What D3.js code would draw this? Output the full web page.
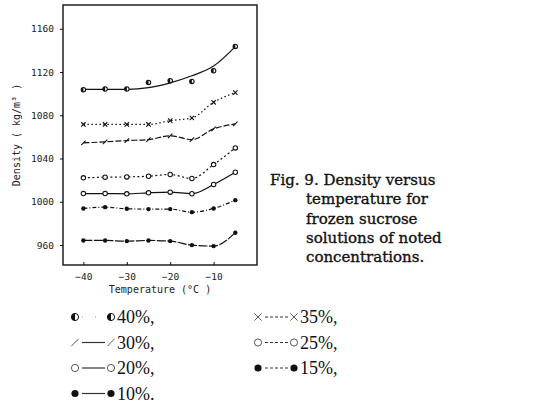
<!DOCTYPE html>
<html>
<head>
<meta charset="utf-8">
<script src="https://cdn.jsdelivr.net/npm/d3@7"></script>
<style>
  body { margin: 0; background: #fff; }
  svg { display: block; }
</style>
</head>
<body>
<script>
// temperatures (°C) and densities (kg/m3)
const temps = [-40, -35, -30, -25, -20, -15, -10, -5];
const conc40 = [1103.7, 1104.3, 1104.3, 1110.4, 1112, 1111.3, 1121.2, 1143.7];
const fit40 = [1104, 1104, 1104, 1105.5, 1110, 1116.5, 1125.5, 1143.5];
const conc35 = [1071.5, 1071.5, 1071.5, 1071.5, 1075, 1077.5, 1092, 1101];
const conc30 = [1054.5, 1055.4, 1056.6, 1057.5, 1061, 1057.5, 1067.4, 1072];
const conc25 = [1022.1, 1022.7, 1023, 1023.6, 1025.2, 1021.5, 1034.4, 1049.8];
const conc20 = [1007.6, 1007.6, 1007.3, 1008.3, 1008.9, 1007.4, 1016, 1027.3];
const conc15 = [993.8, 995, 993.5, 993.2, 993.2, 990.4, 993.8, 1001.5];
const conc10 = [964.2, 964.2, 963.6, 964.2, 963.6, 959.9, 959, 971.4];

const yTicks = [960, 1000, 1040, 1080, 1120, 1160];
const xTicks = [-40, -30, -20, -10];
const captionLines = ['Fig. 9. Density versus', 'temperature for', 'frozen sucrose',
  'solutions of noted', 'concentrations.'];

const width = 538, height = 420;
const pLeft = 63, pRight = 257, pTop = 5, pBottom = 265;

const series = [
  {label: '40%,', values: conc40, line: fit40, mark: 'half', dash: null, legDash: '1,12'},
  {label: '35%,', values: conc35, mark: 'cross', dash: '1.5,2.5', legDash: '3,2'},
  {label: '30%,', values: conc30, mark: 'slash', dash: '6,2', legDash: null},
  {label: '25%,', values: conc25, mark: 'open', dash: '2,2.5', legDash: '3,2'},
  {label: '20%,', values: conc20, mark: 'open', dash: null, legDash: null},
  {label: '15%,', values: conc15, mark: 'dot', dash: '4,2,1,2', legDash: '3,2'},
  {label: '10%.', values: conc10, mark: 'dot', dash: '9,1.5', legDash: null}
];

const svg = d3.select('body')
  .append('svg')
  .attr('width', width)
  .attr('height', height)

const x = d3.scaleLinear()
  .domain([-44.7, 0])
  .range([pLeft, pRight])
const y = d3.scaleLinear()
  .domain([941.5, 1182])
  .range([pBottom, pTop])

const ink = '#111';

// frame
svg.append('rect')
  .attr('x', pLeft)
  .attr('y', pTop)
  .attr('width', pRight - pLeft)
  .attr('height', pBottom - pTop)
  .attr('fill', 'none')
  .attr('stroke', ink)
  .attr('stroke-width', 1.4)

const yAxis = d3.axisLeft(y).tickValues(yTicks).tickSize(3).tickPadding(6)
  .tickFormat(d3.format('d'));
svg.append('g')
  .attr('transform', 'translate(' + pLeft + ',0)')
  .call(yAxis)
  .call(g => g.select('.domain').remove())
  .selectAll('text')
  .attr('font-family', 'DejaVu Sans Mono')
  .attr('font-size', 9.5)
  .attr('fill', '#222')

const xAxis = d3.axisBottom(x).tickValues(xTicks).tickSize(-3).tickPadding(8)
  .tickFormat(d3.format('d'));
svg.append('g')
  .attr('transform', 'translate(0,' + pBottom + ')')
  .call(xAxis)
  .call(g => g.select('.domain').remove())
  .selectAll('text')
  .attr('font-family', 'DejaVu Sans Mono')
  .attr('font-size', 9.5)
  .attr('fill', '#222')
svg.selectAll('.tick line').attr('stroke', ink)

svg.append('text')
  .attr('x', 160)
  .attr('y', 293)
  .attr('text-anchor', 'middle')
  .attr('font-family', 'DejaVu Sans Mono')
  .attr('font-size', 10)
  .attr('fill', '#222')
  .text('Temperature (°C )')

svg.append('text')
  .attr('transform', 'translate(20,135) rotate(-90)')
  .attr('text-anchor', 'middle')
  .attr('font-family', 'DejaVu Sans Mono')
  .attr('font-size', 10)
  .attr('fill', '#222')
  .text('Density ( kg/m³ )')

function drawMark(g, type, r, w) {
  if (type === 'dot') {
    g.append('circle').attr('r', r).attr('fill', ink)
  } else if (type === 'open') {
    g.append('circle').attr('r', r).attr('fill', '#fff').attr('stroke', ink).attr('stroke-width', w)
  } else if (type === 'half') {
    g.append('circle').attr('r', r).attr('fill', '#fff').attr('stroke', ink).attr('stroke-width', w)
    g.append('path')
      .attr('d', 'M0,' + (-r) + 'A' + r + ',' + r + ' 0 0,0 0,' + r + 'Z')
      .attr('fill', ink)
  } else if (type === 'cross') {
    g.append('path')
      .attr('d', 'M' + (-r) + ',' + (-r) + 'L' + r + ',' + r + 'M' + (-r) + ',' + r + 'L' + r + ',' + (-r))
      .attr('stroke', ink).attr('stroke-width', w)
  } else if (type === 'slash') {
    g.append('path')
      .attr('d', 'M' + (-r) + ',' + r + 'L' + r + ',' + (-r))
      .attr('stroke', ink).attr('stroke-width', w)
  }
}

const line = d3.line()
  .x((d, i) => x(temps[i]))
  .y(d => y(d))
  .curve(d3.curveMonotoneX)

series.forEach(s => {
  svg.append('path')
    .datum(s.line || s.values)
    .attr('d', line)
    .attr('fill', 'none')
    .attr('stroke', ink)
    .attr('stroke-width', 1.2)
    .attr('stroke-dasharray', s.dash)

  svg.selectAll(null)
    .data(s.values)
    .enter()
    .append('g')
    .attr('transform', (d, i) => 'translate(' + x(temps[i]) + ',' + y(d) + ')')
    .each(function() { drawMark(d3.select(this), s.mark, 2.2, 1.1) })
})

// caption
svg.append('g')
  .selectAll('text')
  .data(captionLines)
  .enter()
  .append('text')
  .attr('x', (d, i) => i === 0 ? 270 : 306)
  .attr('y', (d, i) => 185 + i * 19.3)
  .attr('font-family', 'DejaVu Serif')
  .attr('font-size', 15)
  .attr('fill', '#111')
  .attr('stroke', '#111')
  .attr('stroke-width', 0.35)
  .text(d => d)

// legend: left column 40,30,20,10 ; right column 35,25,15
series.forEach((s, k) => {
  const col = k % 2;
  const row = Math.floor(k / 2);
  const lx = col === 0 ? 75 : 258;
  const ly = 317 + row * 25.5;
  const g = svg.append('g').attr('transform', 'translate(' + lx + ',' + ly + ')');
  g.append('line')
    .attr('x1', 7).attr('x2', 30)
    .attr('y1', 0).attr('y2', 0)
    .attr('stroke', s.mark === 'half' ? '#999' : '#333')
    .attr('stroke-width', 1.2)
    .attr('stroke-dasharray', s.legDash)
  const lw = (s.mark === 'dot' || s.mark === 'half') ? 1 : 0.7;
  drawMark(g.append('g'), s.mark, 3.6, lw);
  drawMark(g.append('g').attr('transform', 'translate(36,0)'), s.mark, 3.6, lw);
  g.append('text')
    .attr('x', 42)
    .attr('y', 6)
    .attr('font-family', 'Liberation Serif')
    .attr('font-size', 18)
    .attr('fill', '#111')
    .text(s.label)
})
</script>
</body>
</html>
